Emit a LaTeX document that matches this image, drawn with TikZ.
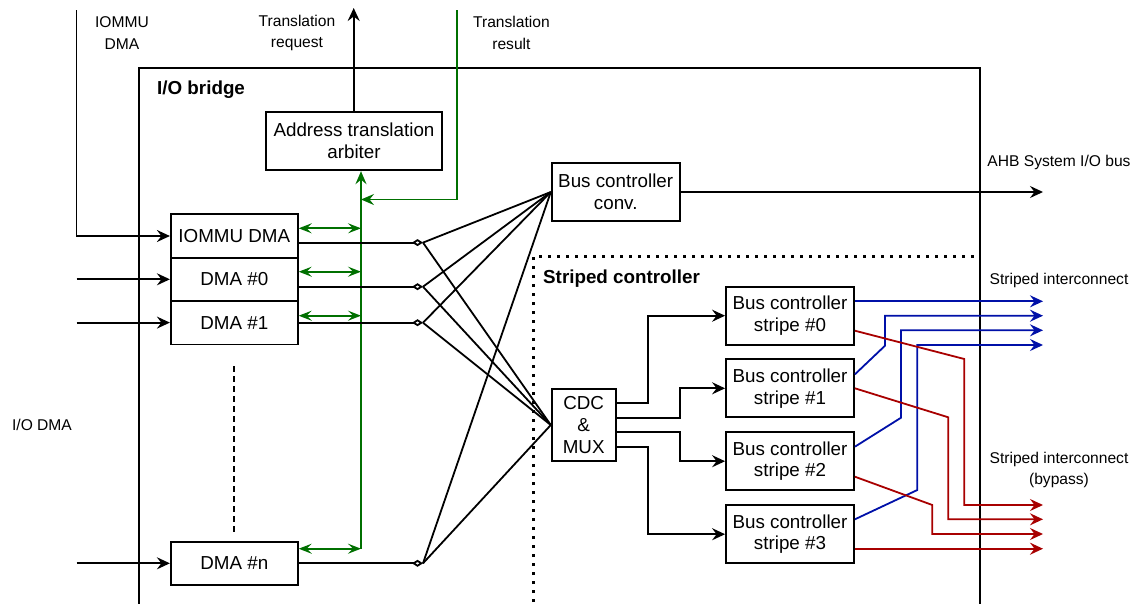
\documentclass[tikz,border=0pt]{standalone}
\usepackage{fontspec}
\setmainfont{Liberation Sans}
\usetikzlibrary{arrows.meta,calc}
\definecolor{grn}{RGB}{0,112,0}
\definecolor{blu}{RGB}{0,16,168}
\definecolor{rd}{RGB}{168,0,0}
\begin{document}
\begin{tikzpicture}[x=1pt,y=-1pt,
  box/.style={draw,line width=1.8pt,minimum width=127pt,inner sep=0pt,align=center,
    font=\fontsize{18.8}{21.7}\selectfont},
  lbl/.style={align=center,inner sep=0pt,font=\fontsize{15.6}{21.7}\selectfont},
  ttl/.style={inner sep=0pt,font=\fontsize{18.8}{21.7}\selectfont\bfseries},
  wire/.style={line width=1.8pt},
  arr/.style={wire,-{Stealth[length=13pt,width=12pt,inset=4.5pt]}},
  dia/.style={wire,-{Diamond[open,length=11pt,width=7pt]}},
  garr/.style={line width=1.7pt,grn,-{Stealth[length=13pt,width=11pt,inset=4.5pt]}},
  gdbl/.style={line width=1.7pt,grn,{Stealth[length=13pt,width=10pt,inset=5pt]}-{Stealth[length=13pt,width=10pt,inset=5pt]}},
  barr/.style={line width=1.8pt,blu,-{Stealth[length=13pt,width=12pt,inset=4.5pt]}},
  rarr/.style={line width=1.8pt,rd,-{Stealth[length=13pt,width=12pt,inset=4.5pt]}},
  dotline/.style={line width=3pt,dash pattern=on 3pt off 6pt},
]
\useasboundingbox (0,0) rectangle (1131,603);

% outer I/O bridge frame
\draw[line width=1.8pt] (139,620) -- (139,68.3) -- (980,68.3) -- (980,620);
\node[ttl,anchor=west] (iobt) at (157,89.5) {I/O bridge};

% striped controller frame (dotted)
\draw[dotline] (533.8,620) -- (533.8,256.6) -- (980,256.6);
\node[ttl,anchor=west] (sct) at (543,279) {Striped controller};

% boxes
\node[box,minimum width=176pt,minimum height=58.5pt] (arb) at (354,141) {Address translation\\arbiter};
\node[box,minimum height=43.5pt] (iommu) at (234.3,236) {IOMMU DMA};
\node[box,minimum height=43.4pt] (dma0) at (234.3,279.3) {DMA \#0};
\node[box,minimum height=43.6pt] (dma1) at (234.3,322.6) {DMA \#1};
\node[box,minimum height=43.3pt] (dman) at (234.3,563.3) {DMA \#n};
\node[box,minimum width=128pt,minimum height=58pt] (bc) at (615.7,192) {Bus controller\\conv.};
\node[box,minimum width=64pt,minimum height=72pt] (cdc) at (583.7,425) {CDC\\\&\\MUX};
\node[box,minimum width=128pt,minimum height=58pt] (s0) at (790,315.7) {Bus controller\\stripe \#0};
\node[box,minimum width=128pt,minimum height=58pt] (s1) at (790,388.3) {Bus controller\\stripe \#1};
\node[box,minimum width=128pt,minimum height=58pt] (s2) at (790,461.2) {Bus controller\\stripe \#2};
\node[box,minimum width=128pt,minimum height=58pt] (s3) at (790,534.2) {Bus controller\\stripe \#3};

% labels
\node[lbl] (liommu) at (122,33) {IOMMU\\DMA};
\node[lbl] (ltreq) at (297,33) {Translation\\request};
\node[lbl] (ltres) at (511.4,33) {Translation\\result};
\node[lbl] (liodma) at (42,425) {I/O DMA};
\node[lbl] (lahb) at (1059,162) {AHB System I/O bus};
\node[lbl] (lsi) at (1059,280) {Striped interconnect};
\node[lbl] (lsib) at (1059,470) {Striped interconnect\\(bypass)};

% free ends
\coordinate (tiommu) at (76.5,10);
\coordinate (in0) at (76.5,279.3);
\coordinate (in1) at (76.5,322.6);
\coordinate (inn) at (76.5,563.3);
\coordinate (treq) at (353.7,8);
\coordinate (tres) at (456.7,10);
\coordinate (gbot) at (361,548.7);
\coordinate (ahb) at (1043,192);
\coordinate (f1) at (423,242.6);
\coordinate (f2) at (423,286.7);
\coordinate (f3) at (423,322.7);
\coordinate (f4) at (423,563.3);
\coordinate (b0) at (1043,301.3);
\coordinate (b1) at (1043,315.7);
\coordinate (b2) at (1043,330.3);
\coordinate (b3) at (1043,345);
\coordinate (r0) at (1043,505);
\coordinate (r1) at (1043,519.3);
\coordinate (r2) at (1043,534);
\coordinate (r3) at (1043,548.7);

% inputs
\draw[arr] (tiommu) |- (iommu.west);
\draw[arr] (in0) -- (dma0.west);
\draw[arr] (in1) -- (dma1.west);
\draw[arr] (inn) -- (dman.west);
\draw[wire,dash pattern=on 6pt off 4pt] (234.3,366) -- (234.3,534);

% translation
\draw[arr] (arb.north -| treq) -- (treq);
\draw[garr] (tres) |- (gbot |- 0,199.5);
\draw[garr] (gbot) -- (gbot |- arb.south);
\draw[gdbl] (iommu.east |- 0,228.3) -- (gbot |- 0,228.3);
\draw[gdbl] (dma0.east |- 0,271.7) -- (gbot |- 0,271.7);
\draw[gdbl] (dma1.east |- 0,315.7) -- (gbot |- 0,315.7);
\draw[gdbl] (dman.east |- gbot) -- (gbot);

% DMA outputs with fan
\draw[dia] (iommu.east |- f1) -- (f1);
\draw[dia] (dma0.east |- f2) -- (f2);
\draw[dia] (dma1.east |- f3) -- (f3);
\draw[dia] (dman.east |- f4) -- (f4);
\foreach \f in {f1,f2,f3,f4}{
  \draw[wire] (\f) -- (bc.west);
  \draw[wire] (\f) -- (cdc.west);
}

% bus controller conv output
\draw[arr] (bc.east) -- (ahb);

% CDC to stripes
\draw[arr] (cdc.east |- 0,403.3) -- ++(31,0) |- (s0.west);
\draw[arr] (cdc.east |- 0,417.7) -- ++(63.3,0) |- (s1.west);
\draw[arr] (cdc.east |- 0,432.3) -- ++(63.3,0) |- (s2.west);
\draw[arr] (cdc.east |- 0,447) -- ++(31,0) |- (s3.west);

% striped interconnect (blue)
\draw[barr] (s0.east |- b0) -- (b0);
\draw[barr] (s1.east |- 0,374.3) -- (885,345.7) |- (b1);
\draw[barr] (s2.east |- 0,446.7) -- (901,417.7) |- (b2);
\draw[barr] (s3.east |- 0,519.3) -- (917.3,490) |- (b3);

% bypass (red)
\draw[rarr] (s0.east |- 0,330.7) -- (964.3,359) |- (r0);
\draw[rarr] (s1.east |- 0,388.3) -- (948.3,417.3) |- (r1);
\draw[rarr] (s2.east |- 0,476.7) -- (932.3,505) |- (r2);
\draw[rarr] (s3.east |- r3) -- (r3);
\end{tikzpicture}
\end{document}
